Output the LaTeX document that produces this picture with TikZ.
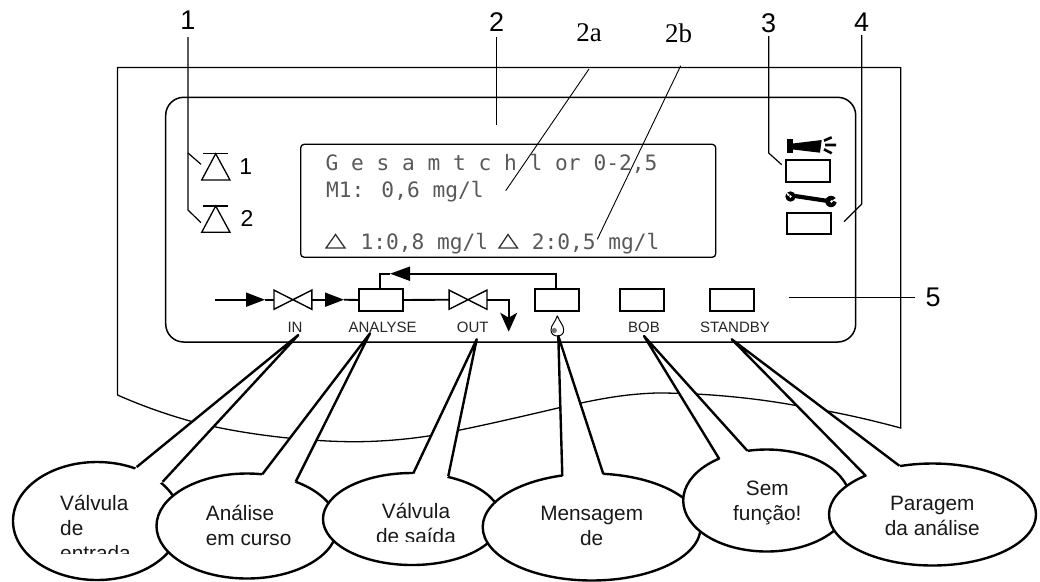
\documentclass[tikz,border=0pt]{standalone}
\usepackage{fontspec}
\setmainfont{Liberation Sans}
\newfontfamily\lcdfont{DejaVu Sans Mono}
\newfontfamily\timesfont{Liberation Serif}
\usetikzlibrary{shapes.geometric,arrows.meta}
\tikzset{
  housing/.style={draw=black,line width=1.3pt},
  leader/.style={draw=black,line width=1.2pt},
  flow/.style={draw=black,line width=1.9pt},
  flowtip/.style={flow,-{Triangle[length=19pt,width=14pt]}},
  btn/.style={draw=black,line width=2pt,minimum width=43.5pt,minimum height=21.5pt,inner sep=0pt,fill=white},
  valve/.style={minimum width=37.5pt,minimum height=18.8pt,inner sep=0pt},
  bowtie/.style={draw=black,line width=1.4pt,line join=miter},
  num/.style={inner sep=0pt,font=\fontsize{27}{29}\selectfont,text=black},
  numserif/.style={inner sep=0pt,font=\timesfont\fontsize{27}{29}\selectfont,text=black},
  smallnum/.style={inner sep=0pt,font=\fontsize{23}{25}\selectfont,text=black},
  lcd/.style={inner sep=0pt,anchor=base west,text=black!65,font=\lcdfont\fontsize{21.2}{25}\selectfont},
  keylabel/.style={inner sep=0pt,anchor=base,text=black!85,font=\fontsize{15}{17}\selectfont},
  bubble/.style={ellipse,draw=black,fill=white,line width=2.4pt,inner sep=0pt},
  tailfill/.style={fill=white},
  tailline/.style={draw=black,line width=2.4pt,line join=round},
  bubbletext/.style={inner sep=0pt,text=black!90,font=\fontsize{20.8}{25}\selectfont},
  lcdtri/.style={draw=black!80,line width=1.3pt,line join=miter},
  symb/.style={draw=black,line width=1.3pt,line join=miter}
}
% name, centre, width, height, tip, base 1, base 2
\newcommand{\speechbubble}[7]{%
  \node[bubble,minimum width=#3pt,minimum height=#4pt] (#1) at (#2) {};
  \coordinate (#1tip) at (#5);
  \coordinate (#1a) at (#6);
  \coordinate (#1b) at (#7);
  \fill[tailfill] (#1tip) -- (#1a) -- (#1.center) -- (#1b) -- cycle;
  \draw[tailline] (#1a) -- (#1tip) -- (#1b);
}
\begin{document}
\begin{tikzpicture}[x=1pt,y=-1pt]
\useasboundingbox (0,0) rectangle (1040,581);
\fill[white] (0,0) rectangle (1040,581);

% housing and panel
\draw[housing] (117.5,395) -- (117.5,67.5) -- (900.7,67.5) -- (900.7,428)
  .. controls (860,417) and (830,411) .. (793,405)
  .. controls (760,399) and (710,393) .. (657,393)
  .. controls (620,394) and (590,401) .. (558,408)
  .. controls (520,417) and (480,426) .. (460,430)
  .. controls (430,437) and (390,442) .. (350,441.7)
  .. controls (300,441) and (240,434) .. (190,421)
  .. controls (165,414) and (140,405) .. (117.5,395);
\draw[housing,line width=1.5pt,rounded corners=18pt] (165.7,97.3) rectangle (855.7,342);
\draw[housing,rounded corners=3.5pt] (300.7,144.3) rectangle (715.7,257.3);

% leaders and numbers
\node[num] (n1) at (188,20) {1};
\node[num] (n2) at (496.7,22.5) {2};
\node[numserif] (n2a) at (589,33) {2a};
\node[numserif] (n2b) at (678.7,33) {2b};
\node[num] (n3) at (768.7,23) {3};
\node[num] (n4) at (861.7,22) {4};
\node[num] (n5) at (933,297.7) {5};
\coordinate (e1a) at (201,164.3);
\coordinate (e1b) at (201,222.7);
\coordinate (e2) at (496.7,125);
\coordinate (e2a) at (505.7,190.7);
\coordinate (e2b) at (597.3,239.3);
\coordinate (e3) at (781.7,164.7);
\coordinate (e4) at (844,221.7);
\coordinate (e5) at (789.3,297.7);
\draw[leader] (188,37) -- (188,153) -- (e1a);
\draw[leader] (188,153) -- (188,210) -- (e1b);
\draw[leader] (496.7,37) -- (e2);
\draw[leader,line width=.9pt] (589,69) -- (e2a);
\draw[leader,line width=.9pt] (680.7,65.7) -- (e2b);
\draw[leader] (768.7,36) -- (768.7,153) -- (e3);
\draw[leader] (861.7,35) -- (861.7,204) -- (e4);
\draw[leader] (915,297.7) -- (e5);

% alarm symbols
\foreach \t/\b/\lab/\lx/\ly in {153.7/180/1/245.7/167,206/232.3/2/247/218}{
  \draw[symb] (203,\t) -- (227.7,\t);
  \draw[symb] (215.7,\t) -- (201.7,\b) -- (230,\b) -- cycle;
  \node[smallnum] at (\lx,\ly) {\lab};
}

% display text
\node[lcd] (l1) at (325.3,170) {G e s a m t c h l or 0-2,5};
\node[lcd] (l2) at (326,197.3) {M1: 0,6 mg/l};
\node[lcd] (l3) at (360.3,249.3) {1:0,8 mg/l};
\node[lcd] (l4) at (531.6,249.3) {2:0,5 mg/l};
\draw[lcdtri] (335.5,234.5) -- (326,248) -- (345,248) -- cycle;
\draw[lcdtri] (508,234.5) -- (499,248) -- (517.5,248) -- cycle;

% key row
\node[btn] (kan) at (381.2,300) {};
\node[btn] (kmsg) at (557,300) {};
\node[btn] (kbob) at (642,300) {};
\node[btn] (kstb) at (732,300) {};
\node[valve] (vin) at (292.9,299.7) {};
\node[valve] (vout) at (468,299.7) {};
\foreach \v in {vin,vout}
  \draw[bowtie] (\v.north west) -- (\v.south east) -- (\v.north east) -- (\v.south west) -- cycle;
\coordinate (src) at (215,299.7);
\coordinate (a1) at (265,299.7);
\coordinate (a2) at (344,299.7);
\coordinate (drain) at (508.7,331.7);
\coordinate (ret) at (390,273.7);
\draw[flowtip] (src) -- (a1);
\draw[flow] (a1) -- (vin.west);
\draw[flowtip] (vin.east) -- (a2);
\draw[flow] (a2) -- (kan.west);
\draw[flow] (kan.east) -- (vout.west);
\draw[flow,-{Stealth[length=19pt,width=17pt,inset=5pt]}] (vout.east) -- (508.7,299.7) -- (drain);
\draw[flow] (kan.north -| 380,0) -- (380,273.7) -- (ret);
\draw[flow,-{Triangle[length=20pt,width=14pt]}] (kmsg.north -| 555.7,0) -- (555.7,273.7) -- (ret);

% indicator keys and icons
\node[btn] (khorn) at (808,171) {};
\node[btn] (kwr) at (808.8,223.3) {};
\fill (786.7,139.3) rectangle (793.3,152.7);
\fill (793,143.5) -- (821.7,140) -- (820,152.7) -- (793,149.5) -- cycle;
\draw[line width=2.6pt] (824,140.7) -- (831.7,137.3) (825,145) -- (836,145) (824,149.3) -- (831.7,153.3);
\draw[line width=4.2pt] (795,196) -- (828,201);
\fill (790.5,196.5) circle (5.2);
\fill (831,201.5) circle (5.7);
\fill[white] (790,195) -- (785,191) -- (788,196) -- cycle;
\fill[white] (790.5,196.5) circle (1.3);
\fill[white] (832,200.5) -- (838,197) -- (838,202.5) -- cycle;
\fill[white] (831.5,201.5) circle (1.3);

% flame
\draw[line width=1pt,fill=white] (557.3,315.7) .. controls (555.5,322) and (551,325) .. (551,330)
  .. controls (551,334) and (554,336) .. (557.3,336)
  .. controls (561,336) and (563.7,334) .. (563.7,330)
  .. controls (563.7,325) and (559.5,322) .. (557.3,315.7);
\fill[black!55] (554.3,330.5) circle (2.6);

% key labels
\node[keylabel] (lin) at (295,332.5) {IN};
\node[keylabel] (lan) at (382.7,332.5) {ANALYSE};
\node[keylabel] (lout) at (472.7,332.5) {OUT};
\node[keylabel] (lbob) at (644,332.5) {BOB};
\node[keylabel] (lstb) at (735,332.5) {STANDBY};

% callouts
\speechbubble{c1}{97,521}{168}{118}{298.3,335}{136.7,467}{162.7,481.7}
\begin{scope}
  \clip (40,490) rectangle (160,553);
  \node[bubbletext,align=left,anchor=base west] (t1) at (60,560) {Válvula\\de\\entrada};
\end{scope}
\speechbubble{c2}{247,526}{181}{105}{370,333.3}{262.3,474.3}{295.7,481.7}
\node[bubbletext,align=left,anchor=base west] (t2) at (205.7,545) {Análise\\em curso};
\speechbubble{c3}{412,519}{178}{92}{476.7,339.3}{413.3,473.3}{448.3,476}
\begin{scope}
  \clip (350,495) rectangle (480,541.7);
  \node[bubbletext,align=center,anchor=base] (t3) at (416,543.5) {Válvula\\de saída};
\end{scope}
\speechbubble{c4}{591.7,527}{218}{107}{558.3,336}{562.3,476}{603.3,474}
\node[bubbletext,align=center,anchor=base] (t4) at (591.7,545) {Mensagem\\de};
\speechbubble{c5}{766.7,500.5}{167}{102}{644,336}{719.3,459}{747.3,450.7}
\node[bubbletext,align=center,anchor=base] (t5) at (767.3,520) {Sem\\função!};
\speechbubble{c6}{932.5,514.5}{207}{102}{731.7,339.3}{866,476}{899.3,465.7}
\node[bubbletext,align=center,anchor=base] (t6) at (932.3,535) {Paragem\\da análise};
\end{tikzpicture}
\end{document}
